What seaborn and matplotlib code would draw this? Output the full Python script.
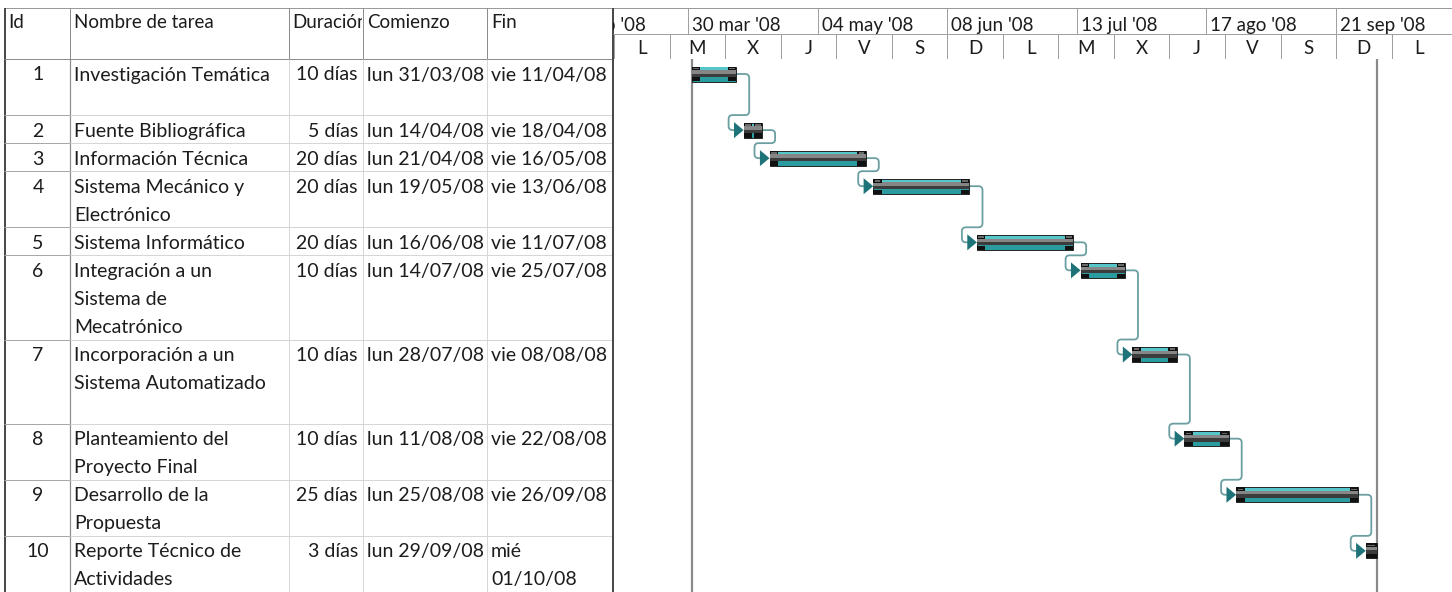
import matplotlib
matplotlib.use("Agg")
import matplotlib.pyplot as plt
import matplotlib.dates as mdates
from matplotlib.path import Path
from matplotlib.patches import PathPatch
from matplotlib.transforms import Bbox, TransformedBbox
import numpy as np
import pandas as pd
import seaborn as sns

# ---------------- data ----------------
task_ids = [1, 2, 3, 4, 5, 6, 7, 8, 9, 10]
task_names = [
    "Investigación Temática",
    "Fuente Bibliográfica",
    "Información Técnica",
    "Sistema Mecánico y\nElectrónico",
    "Sistema Informático",
    "Integración a un\nSistema de\nMecatrónico",
    "Incorporación a un\nSistema Automatizado",
    "Planteamiento del\nProyecto Final",
    "Desarrollo de la\nPropuesta",
    "Reporte Técnico de\nActividades",
]
duration_labels = ["10 días", "5 días", "20 días", "20 días", "20 días",
                   "10 días", "10 días", "10 días", "25 días", "3 días"]
start_labels = ["lun 31/03/08", "lun 14/04/08", "lun 21/04/08", "lun 19/05/08",
                "lun 16/06/08", "lun 14/07/08", "lun 28/07/08", "lun 11/08/08",
                "lun 25/08/08", "lun 29/09/08"]
finish_labels = ["vie 11/04/08", "vie 18/04/08", "vie 16/05/08", "vie 13/06/08",
                 "vie 11/07/08", "vie 25/07/08", "vie 08/08/08", "vie 22/08/08",
                 "vie 26/09/08", "mié\n01/10/08"]
start_dates = ["2008-03-31", "2008-04-14", "2008-04-21", "2008-05-19", "2008-06-16",
               "2008-07-14", "2008-07-28", "2008-08-11", "2008-08-25", "2008-09-29"]
finish_dates = ["2008-04-11", "2008-04-18", "2008-05-16", "2008-06-13", "2008-07-11",
                "2008-07-25", "2008-08-08", "2008-08-22", "2008-09-26", "2008-10-01"]

tier1_dates = ["2008-02-24", "2008-03-30", "2008-05-04", "2008-06-08",
               "2008-07-13", "2008-08-17", "2008-09-21"]
tier1_labels = ["24 feb '08", "30 mar '08", "04 may '08", "08 jun '08",
                "13 jul '08", "17 ago '08", "21 sep '08"]
tier2_dates = ["2008-03-10", "2008-03-25", "2008-04-09", "2008-04-24", "2008-05-09",
               "2008-05-24", "2008-06-08", "2008-06-23", "2008-07-08", "2008-07-23",
               "2008-08-07", "2008-08-22", "2008-09-06", "2008-09-21", "2008-10-06"]
tier2_labels = ["L", "M", "X", "J", "V", "S", "D", "L", "M", "X", "J", "V", "S", "D", "L"]

header_labels = ["Id", "Nombre de tarea", "Duración", "Comienzo", "Fin"]
project_start = "2008-03-31"
project_finish = "2008-10-01"

# ---------------- layout ----------------
W, H = 1452, 592
row_lines = [2, 1, 1, 2, 1, 3, 3, 2, 2, 2]
LINE = 28.05
BODY_TOP = 59
HDR_TOP = 8
TIER_MID = 34
COLS = [4, 70, 289, 363, 487, 613]
CHART_LEFT = 613
PX_PER_DAY = 3.703

sns.set_style("white")
plt.rcParams["font.family"] = ["Lato", "DejaVu Sans"]
FS = 14
FS_HDR = 13.5
TXT = "#1c1c1c"

df = pd.DataFrame({
    "id": task_ids, "name": task_names, "dur": duration_labels,
    "start_lbl": start_labels, "fin_lbl": finish_labels,
    "start": pd.to_datetime(start_dates),
    "finish": pd.to_datetime(finish_dates) + pd.Timedelta(days=1),
})
tops = BODY_TOP + LINE * np.concatenate([[0], np.cumsum(row_lines)])
df["top"] = tops[:-1]
df["yc"] = df["top"] + 15

fig = plt.figure(figsize=(W / 100, H / 100), dpi=100)
fig.patch.set_facecolor("white")

# ---------- table (pixel axes) ----------
tab = fig.add_axes([0, 0, 1, 1])
tab.set_xlim(0, W)
tab.set_ylim(H, 0)
tab.axis("off")

def px(v):
    return v * 0.72

tab.hlines(HDR_TOP, COLS[0], W, color="#9a9a9a", lw=px(1))
tab.vlines(COLS[0] + 0.5, HDR_TOP, H, color="#4a4a4a", lw=px(2))
tab.vlines(COLS[1:5], HDR_TOP, BODY_TOP, color="#8c8c8c", lw=px(1))
tab.hlines(BODY_TOP, COLS[0], CHART_LEFT, color="#8c8c8c", lw=px(1))
tab.vlines(COLS[1], BODY_TOP, H, color="#8c8c8c", lw=px(1.2))
tab.vlines(COLS[2:5], BODY_TOP, H, color="#d6d6d6", lw=px(1))
for t in tops[1:-1]:
    tab.hlines(t, COLS[0], COLS[1], color="#a8a8a8", lw=px(1))
    tab.hlines(t, COLS[1], CHART_LEFT, color="#d6d6d6", lw=px(1))
tab.vlines(CHART_LEFT - 0.5, HDR_TOP, H, color="#4a4a4a", lw=px(2))

hdr_x = [8, 74, 292, 367, 491]
for i, (x, lab) in enumerate(zip(hdr_x, header_labels)):
    t = tab.text(x, 28, lab, fontsize=FS_HDR, color=TXT, va="baseline", ha="left")
    clip = TransformedBbox(Bbox([[COLS[i], 0], [COLS[i + 1] - 1, BODY_TOP]]), tab.transData)
    t.set_clip_box(clip)
    t.set_clip_on(True)

for _, r in df.iterrows():
    base = r["top"] + 21.5
    tab.text(38, base, str(r["id"]), fontsize=FS, color=TXT, ha="center", va="baseline")
    for k, ln in enumerate(r["name"].split("\n")):
        tab.text(74, base + k * LINE, ln, fontsize=FS, color=TXT, ha="left", va="baseline")
    tab.text(358, base, r["dur"], fontsize=FS, color=TXT, ha="right", va="baseline")
    tab.text(367, base, r["start_lbl"], fontsize=FS, color=TXT, ha="left", va="baseline")
    for k, ln in enumerate(r["fin_lbl"].split("\n")):
        tab.text(491, base + k * LINE, ln, fontsize=FS, color=TXT, ha="left", va="baseline")

# ---------- timeline header ----------
d0 = mdates.date2num(pd.Timestamp(tier2_dates[0])) - 1 / PX_PER_DAY
xlim = (d0, d0 + (W - CHART_LEFT) / PX_PER_DAY)

hdr = fig.add_axes([CHART_LEFT / W, (H - BODY_TOP) / H, (W - CHART_LEFT) / W, BODY_TOP / H])
hdr.set_xlim(*xlim)
hdr.set_ylim(BODY_TOP, 0)
hdr.axis("off")
hdr.patch.set_alpha(0)

t1 = mdates.date2num(pd.to_datetime(tier1_dates))
t2 = mdates.date2num(pd.to_datetime(tier2_dates))
hdr.vlines(t1, HDR_TOP, TIER_MID, color="#a0a0a0", lw=px(1))
hdr.hlines(TIER_MID, xlim[0], xlim[1], color="#a0a0a0", lw=px(1))
hdr.vlines(t2, TIER_MID, BODY_TOP, color="#a0a0a0", lw=px(1))
hdr.hlines(BODY_TOP - 0.5, xlim[0], xlim[1], color="#a0a0a0", lw=px(1))
for x, lab in zip(t1, tier1_labels):
    hdr.text(x + 4 / PX_PER_DAY, 31, lab, fontsize=FS_HDR, color=TXT, ha="left",
             va="baseline", clip_on=True)
for x, lab in zip(t2, tier2_labels):
    hdr.text(x + 7.5, 54, lab, fontsize=FS_HDR, color=TXT, ha="center",
             va="baseline", clip_on=True)

# ---------- gantt body ----------
ax = fig.add_axes([CHART_LEFT / W, 0, (W - CHART_LEFT) / W, (H - BODY_TOP) / H])
ax.set_xlim(*xlim)
ax.set_ylim(H, BODY_TOP)
ax.axis("off")
ax.patch.set_alpha(0)

ps = mdates.date2num(pd.Timestamp(project_start))
pf = mdates.date2num(pd.Timestamp(project_finish)) + 1
ax.vlines([ps + 0.5 / PX_PER_DAY, pf], BODY_TOP, H, color="#8a8a8a", lw=px(2.2), zorder=1)

s = mdates.date2num(df["start"])
e = mdates.date2num(df["finish"])
yc = df["yc"].to_numpy()
wd = e - s

# links with rounded corners
LINK = "#6a9ea1"
R = 4.0  # px

def rounded_path(pts):
    verts, codes = [pts[0]], [Path.MOVETO]
    for j in range(1, len(pts) - 1):
        (x0, y0), (x1, y1), (x2, y2) = pts[j - 1], pts[j], pts[j + 1]
        def toward(xa, ya, xb, yb):
            dxp = (xb - xa) * PX_PER_DAY
            dyp = (yb - ya)
            L = max(np.hypot(dxp, dyp), 1e-9)
            f = min(R, L / 2) / L
            return xa + (xb - xa) * f, ya + (yb - ya) * f
        a = toward(x1, y1, x0, y0)
        b = toward(x1, y1, x2, y2)
        verts += [a, (x1, y1), b]
        codes += [Path.LINETO, Path.CURVE3, Path.CURVE3]
    verts.append(pts[-1])
    codes.append(Path.LINETO)
    return Path(verts, codes)

for i in range(len(df) - 1):
    xo = e[i] + 13 / PX_PER_DAY
    xi = s[i + 1] - 15 / PX_PER_DAY
    yh = tops[i + 1]
    pts = [(e[i], yc[i]), (xo, yc[i]), (xo, yh), (xi, yh), (xi, yc[i + 1]),
           (s[i + 1] - 6 / PX_PER_DAY, yc[i + 1])]
    ax.add_patch(PathPatch(rounded_path(pts), fill=False, edgecolor=LINK,
                           lw=px(1.8), zorder=2))

# bars (layered 3D look)
ax.barh(yc, wd, left=s, height=15, color="#2a9ca0", edgecolor="#1a1a1a", lw=px(0.9), zorder=3)
ax.barh(yc - 5.2, wd, left=s, height=2.8, color="#55c6ca", lw=0, zorder=4)
ax.barh(yc - 2.1, wd, left=s, height=3.4, color="#868686", lw=0, zorder=4)
ax.barh(yc + 1.3, wd, left=s, height=3.4, color="#3c3c3c", lw=0, zorder=4)
cap = 8.5 / PX_PER_DAY
inset = 1.5 / PX_PER_DAY
for left in (s, e - cap):
    ax.barh(yc + 5.4, cap, left=left, height=4.2, color="#111111", lw=0, zorder=5)
    ax.barh(yc - 5.6, cap, left=left, height=3.8, color="#111111", lw=0, zorder=5)
    ax.barh(yc - 5.3, cap - 2 * inset, left=left + inset, height=1.6,
            color="#6a6a6a", lw=0, zorder=6)

# arrow heads
tri = Path([(-0.6, -1.0), (0.6, 0.0), (-0.6, 1.0), (-0.6, -1.0)], closed=True)
arr = pd.DataFrame({"x": s[1:] - 4.8 / PX_PER_DAY, "y": yc[1:]})
sns.scatterplot(data=arr, x="x", y="y", marker=tri, s=133, color="#1d7378",
                edgecolor="none", ax=ax, zorder=7, legend=False)
ax.set_xlim(*xlim)
ax.set_ylim(H, BODY_TOP)
ax.axis("off")

fig.savefig("out.png", dpi=100)
